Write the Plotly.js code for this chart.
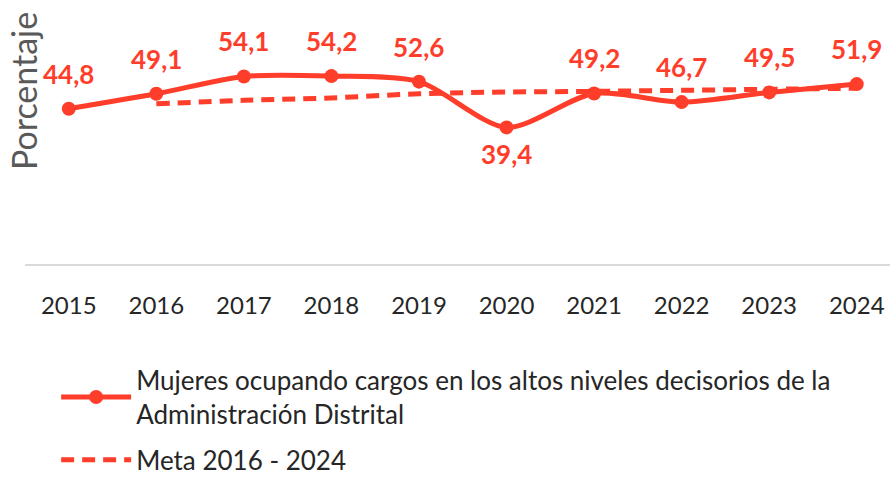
<!DOCTYPE html>
<html>
<head>
<meta charset="utf-8">
<script src="https://cdn.plot.ly/plotly-3.0.1.min.js"></script>
<style>html,body{margin:0;padding:0;background:#fff;}#chart{width:890px;height:478px;}</style>
</head>
<body>
<div id="chart"></div>
<script>
const years = ['2015','2016','2017','2018','2019','2020','2021','2022','2023','2024'];
const mujeres = [44.8, 49.1, 54.1, 54.2, 52.6, 39.4, 49.2, 46.7, 49.5, 51.9];
const metaYears = ['2016','2017','2018','2019','2020','2021','2022','2023','2024'];
const meta = [46.2, 47.2, 47.9, 49.1, 49.6, 49.8, 50.1, 50.4, 50.7];
const labels = ['44,8','49,1','54,1','54,2','52,6','39,4','49,2','46,7','49,5','51,9'];
const labelBelow = [false,false,false,false,false,true,false,false,false,false];
const serieNames = ['Mujeres ocupando cargos en los altos niveles decisorios de la<br>Administración Distrital', 'Meta 2016 - 2024'];

const RED = '#FF3D2B';
const FONT = 'Lato, "Open Sans", sans-serif';

const traces = [
  {
    x: years, y: mujeres, type: 'scatter', mode: 'lines+markers',
    name: serieNames[0], legendgroup: 'g1',
    line: {color: RED, width: 5, shape: 'spline', smoothing: 0.8},
    marker: {color: RED, size: 14},
    hoverinfo: 'skip'
  },
  {
    x: metaYears, y: meta, type: 'scatter', mode: 'lines',
    name: serieNames[1], legendgroup: 'g2',
    line: {color: RED, width: 5, dash: '13px,8px', shape: 'spline'},
    hoverinfo: 'skip'
  }
];

const annotations = years.map((yr, i) => ({
  x: years.indexOf(yr), y: mujeres[i], xref: 'x', yref: 'y',
  text: '<b>' + labels[i] + '</b>', showarrow: false,
  yshift: labelBelow[i] ? -27 : 35,
  font: {family: 'Lato', size: 26, color: RED, weight: 900}
}));
annotations.push({
  xref: 'paper', yref: 'paper', x: -0.0015, y: 0.83,
  xanchor: 'center', yanchor: 'middle', textangle: -90,
  text: 'Porcentaje', showarrow: false,
  font: {family: FONT, size: 34, color: '#595959'}
});

const layout = {
  width: 890, height: 478,
  margin: {l: 25, r: 0, t: 56, b: 214, autoexpand: false},
  paper_bgcolor: '#fff', plot_bgcolor: '#fff',
  showlegend: true,
  font: {family: FONT, color: '#262626'},
  xaxis: {
    type: 'category', range: [-0.5, 9.38],
    showgrid: false, zeroline: false,
    showline: true, linecolor: '#D9D9D9', linewidth: 2,
    ticks: '', ticklabelstandoff: 19,
    tickfont: {family: FONT, size: 24, color: '#262626'},
    fixedrange: true
  },
  yaxis: {
    range: [0, 60], showgrid: false, zeroline: false, showline: false,
    showticklabels: false, ticks: '', fixedrange: true
  },
  legend: {
    orientation: 'v', x: 0.036, y: -0.446, xanchor: 'left', yanchor: 'top',
    font: {family: FONT, size: 26, color: '#262626'},
    itemwidth: 70, traceorder: 'grouped', tracegroupgap: 9, bgcolor: 'rgba(0,0,0,0)'
  },
  annotations: annotations
};

Plotly.newPlot('chart', traces, layout, {displayModeBar: false, staticPlot: true});
</script>
</body>
</html>
